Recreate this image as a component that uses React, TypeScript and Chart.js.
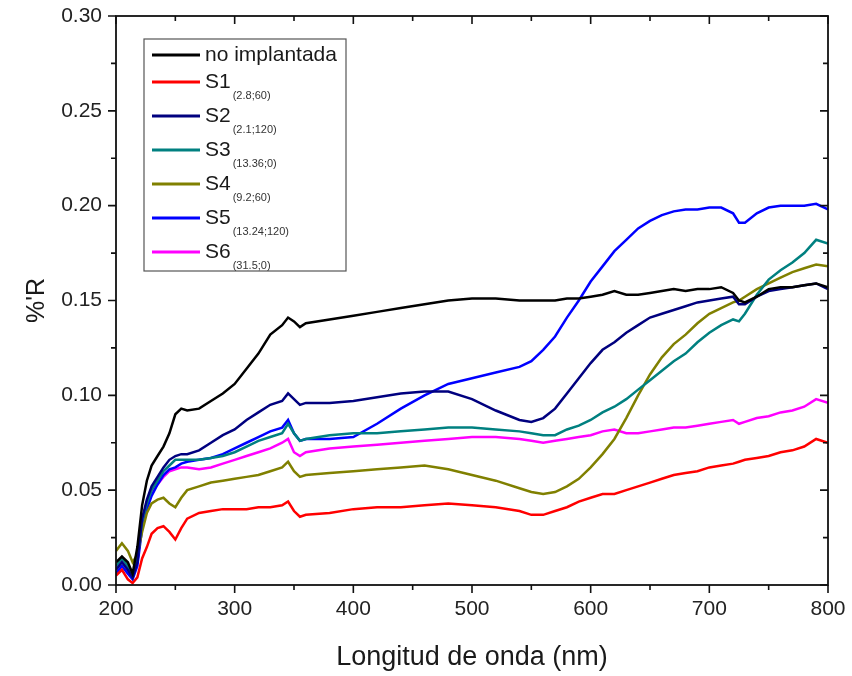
import React, { useEffect, useRef } from "react";
import { Chart, registerables } from "chart.js";

Chart.register(...registerables);

const wavelengths = [200, 205, 210, 214, 218, 222, 226, 230, 235, 240, 245, 250, 255, 260, 270, 280, 290, 300, 310, 320, 330, 340, 345, 350, 355, 360, 380, 400, 420, 440, 460, 480, 500, 520, 540, 550, 560, 570, 580, 590, 600, 610, 620, 630, 640, 650, 660, 670, 680, 690, 700, 710, 720, 725, 730, 740, 750, 760, 770, 780, 790, 800];

const noImplantada = [0.012, 0.015, 0.012, 0.006, 0.020, 0.042, 0.055, 0.063, 0.068, 0.073, 0.080, 0.090, 0.093, 0.092, 0.093, 0.097, 0.101, 0.106, 0.114, 0.122, 0.132, 0.137, 0.141, 0.139, 0.136, 0.138, 0.140, 0.142, 0.144, 0.146, 0.148, 0.150, 0.151, 0.151, 0.150, 0.150, 0.150, 0.150, 0.151, 0.151, 0.152, 0.153, 0.155, 0.153, 0.153, 0.154, 0.155, 0.156, 0.155, 0.156, 0.156, 0.157, 0.154, 0.150, 0.149, 0.152, 0.156, 0.157, 0.157, 0.158, 0.159, 0.157];

const s1 = [0.005, 0.008, 0.003, 0.001, 0.004, 0.014, 0.020, 0.027, 0.030, 0.031, 0.028, 0.024, 0.030, 0.035, 0.038, 0.039, 0.040, 0.040, 0.040, 0.041, 0.041, 0.042, 0.044, 0.039, 0.036, 0.037, 0.038, 0.040, 0.041, 0.041, 0.042, 0.043, 0.042, 0.041, 0.039, 0.037, 0.037, 0.039, 0.041, 0.044, 0.046, 0.048, 0.048, 0.050, 0.052, 0.054, 0.056, 0.058, 0.059, 0.060, 0.062, 0.063, 0.064, 0.065, 0.066, 0.067, 0.068, 0.070, 0.071, 0.073, 0.077, 0.075];

const s2 = [0.008, 0.012, 0.008, 0.004, 0.012, 0.035, 0.045, 0.052, 0.057, 0.062, 0.066, 0.068, 0.069, 0.069, 0.071, 0.075, 0.079, 0.082, 0.087, 0.091, 0.095, 0.097, 0.101, 0.098, 0.095, 0.096, 0.096, 0.097, 0.099, 0.101, 0.102, 0.102, 0.098, 0.092, 0.087, 0.086, 0.088, 0.093, 0.101, 0.109, 0.117, 0.124, 0.128, 0.133, 0.137, 0.141, 0.143, 0.145, 0.147, 0.149, 0.150, 0.151, 0.152, 0.148, 0.148, 0.152, 0.155, 0.156, 0.157, 0.158, 0.159, 0.156];

const s3 = [0.010, 0.014, 0.010, 0.005, 0.014, 0.034, 0.043, 0.050, 0.055, 0.060, 0.063, 0.066, 0.066, 0.066, 0.066, 0.067, 0.068, 0.070, 0.073, 0.076, 0.078, 0.080, 0.085, 0.080, 0.076, 0.077, 0.079, 0.080, 0.080, 0.081, 0.082, 0.083, 0.083, 0.082, 0.081, 0.080, 0.079, 0.079, 0.082, 0.084, 0.087, 0.091, 0.094, 0.098, 0.103, 0.108, 0.113, 0.118, 0.122, 0.128, 0.133, 0.137, 0.140, 0.139, 0.143, 0.153, 0.161, 0.166, 0.170, 0.175, 0.182, 0.180];

const s4 = [0.018, 0.022, 0.018, 0.012, 0.016, 0.028, 0.038, 0.043, 0.045, 0.046, 0.043, 0.041, 0.046, 0.050, 0.052, 0.054, 0.055, 0.056, 0.057, 0.058, 0.060, 0.062, 0.065, 0.060, 0.057, 0.058, 0.059, 0.060, 0.061, 0.062, 0.063, 0.061, 0.058, 0.055, 0.051, 0.049, 0.048, 0.049, 0.052, 0.056, 0.062, 0.069, 0.077, 0.088, 0.100, 0.111, 0.120, 0.127, 0.132, 0.138, 0.143, 0.146, 0.149, 0.150, 0.152, 0.156, 0.159, 0.162, 0.165, 0.167, 0.169, 0.168];

const s5 = [0.006, 0.010, 0.006, 0.003, 0.010, 0.030, 0.040, 0.047, 0.053, 0.058, 0.061, 0.062, 0.064, 0.065, 0.066, 0.067, 0.069, 0.072, 0.075, 0.078, 0.081, 0.083, 0.087, 0.080, 0.076, 0.077, 0.077, 0.078, 0.085, 0.093, 0.100, 0.106, 0.109, 0.112, 0.115, 0.118, 0.124, 0.131, 0.141, 0.150, 0.160, 0.168, 0.176, 0.182, 0.188, 0.192, 0.195, 0.197, 0.198, 0.198, 0.199, 0.199, 0.196, 0.191, 0.191, 0.196, 0.199, 0.200, 0.200, 0.200, 0.201, 0.198];

const s6 = [0.008, 0.013, 0.008, 0.004, 0.012, 0.033, 0.043, 0.049, 0.053, 0.057, 0.060, 0.061, 0.062, 0.062, 0.061, 0.062, 0.064, 0.066, 0.068, 0.070, 0.072, 0.075, 0.077, 0.070, 0.068, 0.070, 0.072, 0.073, 0.074, 0.075, 0.076, 0.077, 0.078, 0.078, 0.077, 0.076, 0.075, 0.076, 0.077, 0.078, 0.079, 0.081, 0.082, 0.080, 0.080, 0.081, 0.082, 0.083, 0.083, 0.084, 0.085, 0.086, 0.087, 0.085, 0.086, 0.088, 0.089, 0.091, 0.092, 0.094, 0.098, 0.096];

const seriesNames = ["no implantada", "S1", "S2", "S3", "S4", "S5", "S6"];
const seriesSubs = ["", "(2.8;60)", "(2.1;120)", "(13.36;0)", "(9.2;60)", "(13.24;120)", "(31.5;0)"];
const seriesValues = [noImplantada, s1, s2, s3, s4, s5, s6];
const seriesColors = ["#000000", "#ff0000", "#00007f", "#008080", "#808000", "#0000ff", "#ff00ff"];

const xTicks = [200, 300, 400, 500, 600, 700, 800];
const yTicks = [0.0, 0.05, 0.1, 0.15, 0.2, 0.25, 0.3];

const FONT = "'Liberation Sans', Arial, sans-serif";

const framePlugin = {
  id: "frameTicks",
  afterDraw(chart: any) {
    const ctx = chart.ctx;
    const { left, right, top, bottom } = chart.chartArea;
    const xs = chart.scales.x;
    const ys = chart.scales.y;
    ctx.save();
    ctx.strokeStyle = "#111";
    ctx.lineWidth = 1.8;
    ctx.strokeRect(left, top, right - left, bottom - top);
    ctx.lineWidth = 1.6;
    ctx.beginPath();
    for (let v = 200; v <= 800; v += 50) {
      const px = xs.getPixelForValue(v);
      const major = v % 100 === 0;
      const len = major ? 8 : 5;
      ctx.moveTo(px, bottom);
      ctx.lineTo(px, bottom + len);
      ctx.moveTo(px, top);
      ctx.lineTo(px, top + len);
    }
    for (let i = 0; i <= 12; i++) {
      const v = i * 0.025;
      const py = ys.getPixelForValue(v);
      const major = i % 2 === 0;
      const len = major ? 8 : 5;
      ctx.moveTo(left, py);
      ctx.lineTo(left - len, py);
      ctx.moveTo(right, py);
      ctx.lineTo(right - len, py);
    }
    ctx.stroke();

    // legend
    const bx = 144, by = 39, bw = 202, bh = 232;
    ctx.fillStyle = "#ffffff";
    ctx.fillRect(bx, by, bw, bh);
    ctx.strokeStyle = "#555";
    ctx.lineWidth = 1.2;
    ctx.strokeRect(bx, by, bw, bh);
    const rows = [55, 82, 116, 150, 184, 218, 252];
    for (let i = 0; i < seriesNames.length; i++) {
      const y = rows[i];
      ctx.strokeStyle = seriesColors[i];
      ctx.lineWidth = 2.8;
      ctx.beginPath();
      ctx.moveTo(152, y);
      ctx.lineTo(200, y);
      ctx.stroke();
      ctx.fillStyle = "#1a1a1a";
      ctx.textBaseline = "middle";
      ctx.textAlign = "left";
      ctx.font = `21px ${FONT}`;
      ctx.fillText(seriesNames[i], 205, y);
      if (seriesSubs[i]) {
        const w = ctx.measureText(seriesNames[i]).width;
        ctx.font = `11px ${FONT}`;
        ctx.fillStyle = "#333";
        ctx.fillText(seriesSubs[i], 205 + w + 2, y + 14);
      }
    }
    ctx.restore();
  },
};

export default function App() {
  const canvasRef = useRef<HTMLCanvasElement | null>(null);
  useEffect(() => {
    const canvas = canvasRef.current;
    if (!canvas) return;
    const datasets = seriesNames.map((name, i) => ({
      label: name,
      data: wavelengths.map((w, j) => ({ x: w, y: seriesValues[i][j] })),
      borderColor: seriesColors[i],
      backgroundColor: seriesColors[i],
      borderWidth: 2.5,
      pointRadius: 0,
      tension: 0,
      fill: false,
    }));
    const chart = new Chart(canvas, {
      type: "line",
      data: { datasets },
      options: {
        animation: false,
        responsive: false,
        maintainAspectRatio: false,
        layout: { padding: { top: 16, right: 24, left: 0, bottom: 0 } },
        plugins: { legend: { display: false }, tooltip: { enabled: false } },
        scales: {
          x: {
            type: "linear",
            min: 200,
            max: 800,
            afterFit: (s: any) => {
              s.height = 91;
              s.paddingLeft = 0;
              s.paddingRight = 0;
            },
            afterBuildTicks: (s: any) => { s.ticks = xTicks.map((v) => ({ value: v })); },
            grid: { display: false },
            border: { display: false },
            ticks: {
              color: "#222",
              font: { family: FONT, size: 21 },
              padding: 4,
              maxRotation: 0,
              callback: (v: any) => String(v),
            },
            title: {
              display: true,
              text: "Longitud de onda (nm)",
              color: "#1a1a1a",
              font: { family: FONT, size: 27 },
              padding: { top: 0, bottom: 2 },
            },
          },
          y: {
            type: "linear",
            min: 0,
            max: 0.3,
            afterFit: (s: any) => {
              s.width = 116;
              s.paddingTop = 0;
              s.paddingBottom = 0;
            },
            afterBuildTicks: (s: any) => { s.ticks = yTicks.map((v) => ({ value: v })); },
            grid: { display: false },
            border: { display: false },
            ticks: {
              color: "#222",
              font: { family: FONT, size: 21 },
              padding: 6,
              callback: (v: any) => Number(v).toFixed(2),
            },
            title: {
              display: true,
              text: "%'R",
              color: "#1a1a1a",
              font: { family: FONT, size: 25 },
              padding: { top: 22, bottom: 0 },
            },
          },
        },
      },
      plugins: [framePlugin],
    });
    return () => chart.destroy();
  }, []);
  return (
    <div style={{ position: "fixed", left: 0, top: 0, width: 852, height: 676, background: "#fff" }}>
      <canvas ref={canvasRef} width={852} height={676} style={{ width: 852, height: 676, display: "block" }} />
    </div>
  );
}
